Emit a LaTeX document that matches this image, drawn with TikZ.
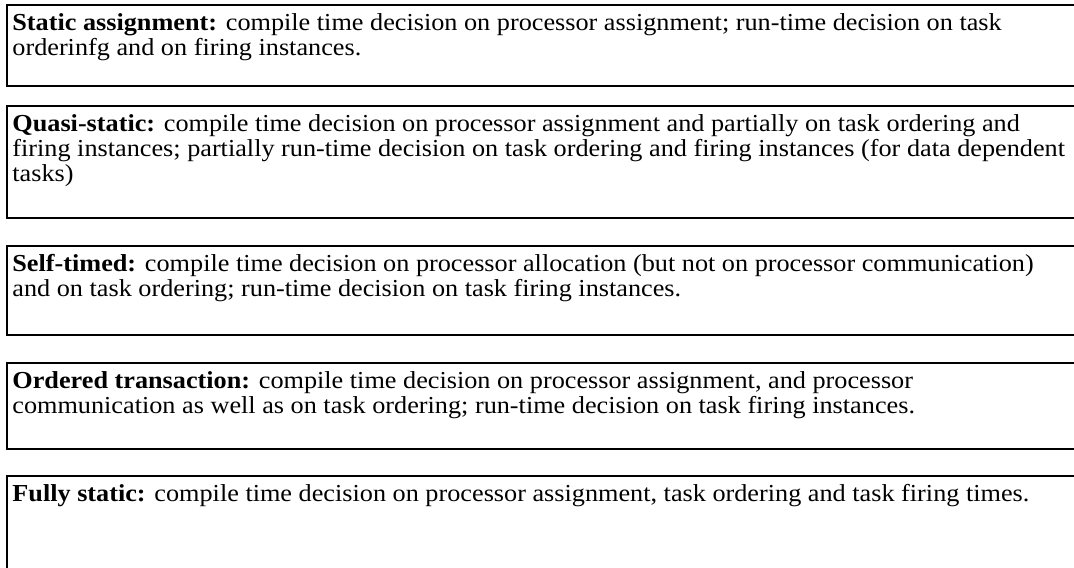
\documentclass[tikz,border=0pt]{standalone}
\usepackage{fontspec}
\setmainfont{Liberation Serif}[FakeStretch=1.075]
\usepackage{tikz}

\begin{document}
\begin{tikzpicture}[x=0.5pt,y=-0.5pt,
  panel/.style={draw=black,line width=0.9pt,anchor=north west,inner sep=0pt,minimum width=542pt},
  txt/.style={anchor=north west,inner sep=0pt,align=left,font=\fontsize{12.2}{12.5}\selectfont}]
\path[use as bounding box,clip] (0,0) rectangle (1074,567);
\node[panel,minimum height=40.5pt] (static) at (6,4) {};
\node[panel,minimum height=56pt] (quasi) at (6,105) {};
\node[panel,minimum height=44.5pt] (selftimed) at (6,245) {};
\node[panel,minimum height=43pt] (ordered) at (6,362) {};
\node[panel,minimum height=60pt] (fully) at (6,475) {};
\node[txt] (statictxt) at ([shift={(6,9)}]static.north west)
  {\strut\textbf{Static assignment:} compile time decision on processor assignment; run-time decision on task\\
   orderinfg and on firing instances.};
\node[txt] (quasitxt) at ([shift={(6,9)}]quasi.north west)
  {\strut\textbf{Quasi-static:} compile time decision on processor assignment and partially on task ordering and\\
   firing instances; partially run-time decision on task ordering and firing instances (for data dependent\\
   tasks)};
\node[txt] (selftimedtxt) at ([shift={(6,9)}]selftimed.north west)
  {\strut\textbf{Self-timed:} compile time decision on processor allocation (but not on processor communication)\\
   and on task ordering; run-time decision on task firing instances.};
\node[txt] (orderedtxt) at ([shift={(6,9)}]ordered.north west)
  {\strut\textbf{Ordered transaction:} compile time decision on processor assignment, and processor\\
   communication as well as on task ordering; run-time decision on task firing instances.};
\node[txt] (fullytxt) at ([shift={(6,9)}]fully.north west)
  {\strut\textbf{Fully static:} compile time decision on processor assignment, task ordering and task firing times.};
\end{tikzpicture}
\end{document}
